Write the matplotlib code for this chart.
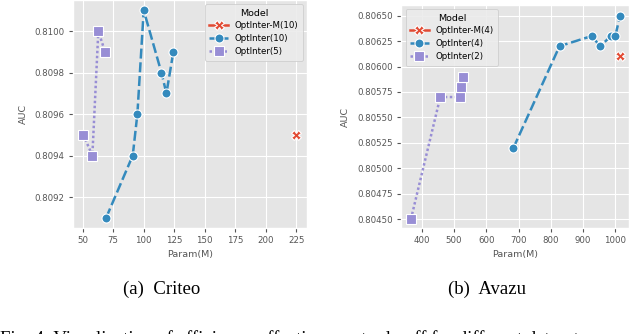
import matplotlib
matplotlib.use("Agg")
import matplotlib.pyplot as plt

plt.style.use("ggplot")

# Criteo
criteo_m_x = [225]
criteo_m_auc = [0.8095]
criteo_10_x = [69.2, 91, 94.8, 100, 114.5, 118.6, 124.3]
criteo_10_auc = [0.8091, 0.8094, 0.8096, 0.8101, 0.8098, 0.8097, 0.8099]
criteo_5_x = [50.5, 57.9, 62.8, 68.3]
criteo_5_auc = [0.8095, 0.8094, 0.8100, 0.8099]
criteo_xticks = [50, 75, 100, 125, 150, 175, 200, 225]
criteo_yticks = [0.8092, 0.8094, 0.8096, 0.8098, 0.8100]

# Avazu
avazu_m_x = [1015]
avazu_m_auc = [0.80610]
avazu_4_x = [684, 827, 927, 953, 987, 1000, 1015]
avazu_4_auc = [0.80520, 0.80620, 0.80630, 0.80620, 0.80630, 0.80630, 0.80650]
avazu_2_x = [366, 457, 519, 522, 526]
avazu_2_auc = [0.80450, 0.80570, 0.80570, 0.80580, 0.80590]
avazu_xticks = [400, 500, 600, 700, 800, 900, 1000]
avazu_yticks = [0.80450, 0.80475, 0.80500, 0.80525, 0.80550, 0.80575, 0.80600, 0.80625, 0.80650]

RED = "#E24A33"
BLUE = "#348ABD"
PURPLE = "#988ED5"
MSIZE = {"X": 7, "o": 6.5, "s": 6.8}


def draw_panel(ax, series, xticks, yticks, yfmt, xlim, ylim, legend_loc):
    for label, xs, ys, color, marker, dashes in series:
        ax.plot(xs, ys, color=color, marker=marker, markersize=MSIZE[marker],
                markeredgecolor="white", markeredgewidth=0.8, linewidth=1.8,
                dashes=dashes, label=label)
    ax.set_xticks(xticks)
    ax.set_yticks(yticks)
    ax.set_yticklabels([yfmt.format(v) for v in yticks])
    ax.set_xlim(*xlim)
    ax.set_ylim(*ylim)
    ax.tick_params(labelsize=6.2, colors="#555555", length=3, width=0.8, pad=3)
    ax.set_xlabel("Param(M)", fontsize=6.8, color="#555555", labelpad=3)
    ax.set_ylabel("AUC", fontsize=6.8, color="#555555", labelpad=5)
    leg = ax.legend(loc=legend_loc, title="Model", fontsize=6.2, title_fontsize=6.8,
                    handlelength=2.2, borderpad=0.5, labelspacing=0.45,
                    facecolor="#EBEBEB", edgecolor="#CCCCCC", framealpha=0.9)
    leg.get_frame().set_linewidth(0.6)


fig = plt.figure(figsize=(6.4, 3.34), dpi=100)
ax1 = fig.add_axes([0.114, 0.317, 0.366, 0.683])
ax2 = fig.add_axes([0.627, 0.317, 0.356, 0.668])

draw_panel(ax1,
           [("OptInter-M(10)", criteo_m_x, criteo_m_auc, RED, "X", (None, None)),
            ("OptInter(10)", criteo_10_x, criteo_10_auc, BLUE, "o", (4, 1.5)),
            ("OptInter(5)", criteo_5_x, criteo_5_auc, PURPLE, "s", (1, 1))],
           criteo_xticks, criteo_yticks, "{:.4f}", (42, 234), (0.80905, 0.81015),
           "upper right")
draw_panel(ax2,
           [("OptInter-M(4)", avazu_m_x, avazu_m_auc, RED, "X", (None, None)),
            ("OptInter(4)", avazu_4_x, avazu_4_auc, BLUE, "o", (4, 1.5)),
            ("OptInter(2)", avazu_2_x, avazu_2_auc, PURPLE, "s", (1, 1))],
           avazu_xticks, avazu_yticks, "{:.5f}", (336, 1043), (0.804411, 0.806605),
           "upper left")

fig.text(0.253, 0.135, "(a)  Criteo", fontsize=13.5, family="Liberation Serif",
         ha="center", va="center")
fig.text(0.761, 0.135, "(b)  Avazu", fontsize=13.5, family="Liberation Serif",
         ha="center", va="center")
fig.text(0.0, 0.012, "Fig. 4: Visualization of efficiency-effectiveness trade-off for different datasets.",
         fontsize=13.5, family="Liberation Serif", ha="left", va="top")

fig.savefig("out.png", dpi=100, facecolor="white")
